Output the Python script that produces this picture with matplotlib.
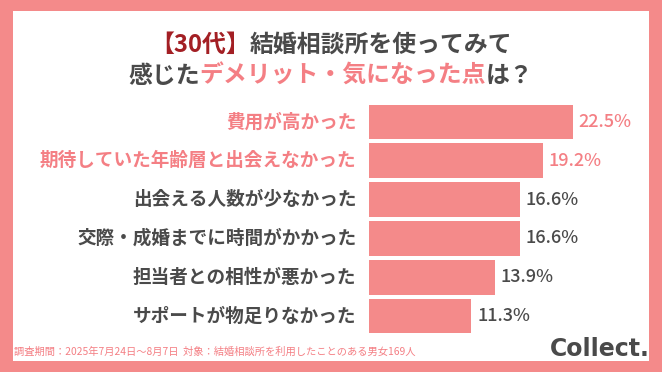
import matplotlib
matplotlib.use("Agg")
import matplotlib.pyplot as plt
from matplotlib.patches import Rectangle

plt.rcParams['font.family'] = ['Noto Sans CJK JP', 'DejaVu Sans']

categories = ["費用が高かった", "期待していた年齢層と出会えなかった", "出会える人数が少なかった",
              "交際・成婚までに時間がかかった", "担当者との相性が悪かった", "サポートが物足りなかった"]
values = [22.5, 19.2, 16.6, 16.6, 13.9, 11.3]
highlight = [True, True, False, False, False, False]

PINK = "#F48A8A"
PINK_TXT = "#F47F84"
DARK = "#4A4A4A"
RED = "#A31F24"

W, H = 662, 372
fig = plt.figure(figsize=(W / 100, H / 100), dpi=100)
fig.patch.set_facecolor(PINK)
fig.add_artist(Rectangle((13 / W, 11 / H), (649 - 13) / W, (361 - 11) / H,
                         transform=fig.transFigure, facecolor="white", edgecolor="none", zorder=0))

def fx(px):
    return px / W

def fy(py):
    return 1 - py / H

# axes: x from 369px, 9.07 px per %
x0, x1 = 369, 650
top, bot = 102.6, 335.4
ax = fig.add_axes([fx(x0), fy(bot), fx(x1 - x0), (bot - top) / H])
ax.set_xlim(0, (x1 - x0) / 9.07)
ax.set_ylim(len(values) - 0.5, -0.5)
ax.axis("off")
ypos = list(range(len(values)))
bars = ax.barh(ypos, values, height=0.9, color=PINK, edgecolor="none")

for i, (v, c, h) in enumerate(zip(values, categories, highlight)):
    col = PINK_TXT if h else DARK
    ax.annotate(f"{v}%", (v, i), xytext=(4, 0), textcoords="offset points",
                ha="left", va="center", fontsize=13, color=col, fontweight="medium")
    ax.annotate(c, (0, i), xytext=(-9, 0), textcoords="offset points",
                ha="right", va="center", fontsize=13.4, color=col, fontweight="bold")

# Title with multi-colour segments
fig.canvas.draw()
renderer = fig.canvas.get_renderer()

def seg_line(segments, cy, size):
    texts = []
    for s, col in segments:
        t = fig.text(0, fy(cy), s, fontsize=size, fontweight="bold", color=col,
                     ha="left", va="center")
        texts.append(t)
    widths = [t.get_window_extent(renderer).width for t in texts]
    total = sum(widths)
    x = W / 2 - total / 2
    for t, w in zip(texts, widths):
        t.set_x(fx(x))
        x += w

seg_line([("【30代】", RED), ("結婚相談所を使ってみて", DARK)], 45, 17.2)
seg_line([("感じた", DARK), ("デメリット・気になった点", PINK_TXT), ("は？", DARK)], 76, 17.2)

fig.text(fx(14), fy(352), "調査期間：2025年7月24日～8月7日  対象：結婚相談所を利用したことのある男女169人",
         fontsize=7.4, color=PINK_TXT, ha="left", va="center")
fig.text(fx(650), fy(349), "Collect.", fontsize=17, fontweight="bold", color=DARK,
         ha="right", va="center", family="DejaVu Sans")

fig.savefig("out.png", dpi=100, facecolor=fig.get_facecolor())
